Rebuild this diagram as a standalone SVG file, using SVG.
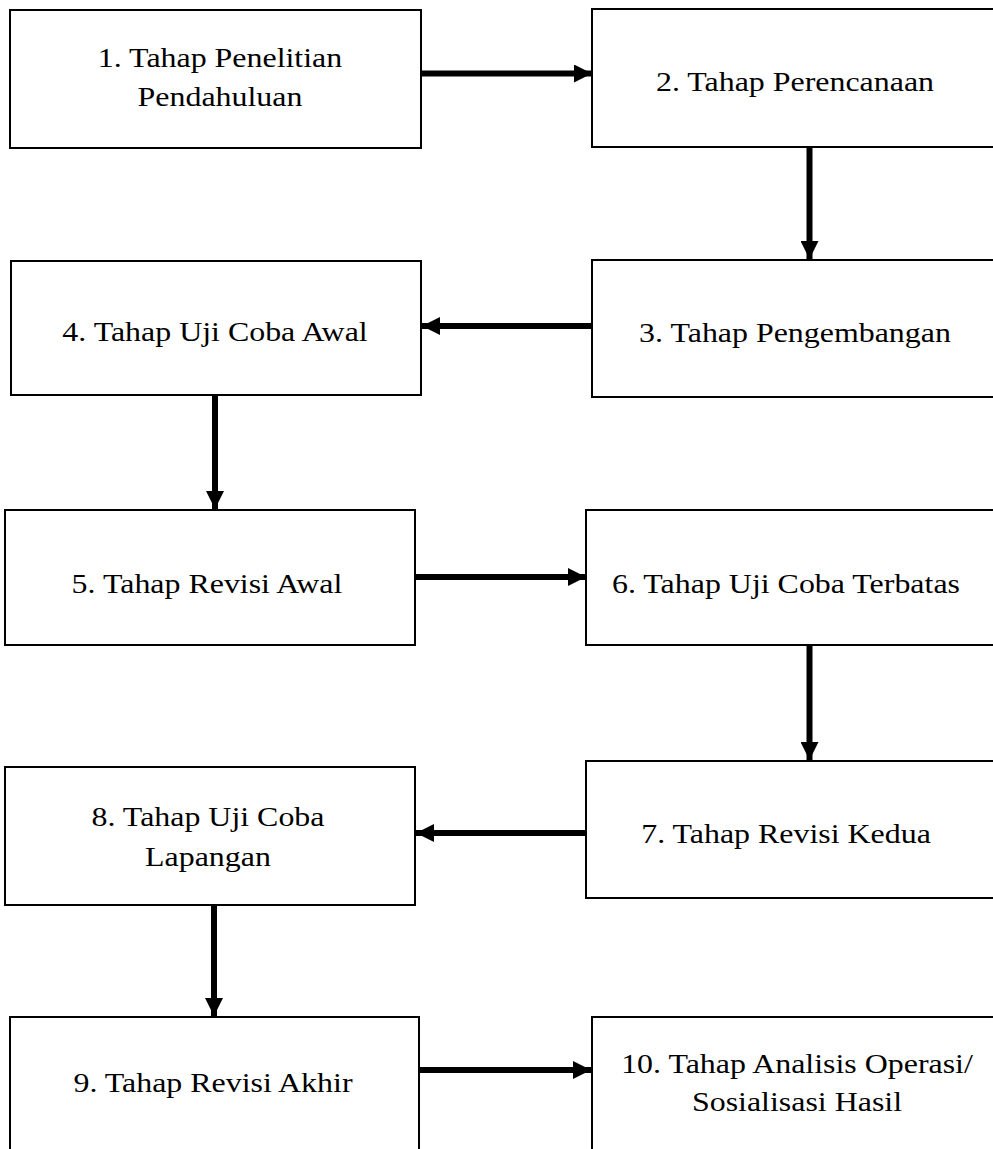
<svg xmlns="http://www.w3.org/2000/svg" width="993" height="1149" viewBox="0 0 993 1149">
<style>
.box{fill:#fff;stroke:#000;stroke-width:2}
.t{font-family:"Liberation Serif","Times New Roman",serif;font-size:28px;text-anchor:middle;fill:#000}
.c{stroke:#000;stroke-width:6;fill:none}
</style>
<defs>
<marker id="ah" markerUnits="userSpaceOnUse" markerWidth="18" markerHeight="18" viewBox="0 0 18 18" refX="18" refY="9" orient="auto">
<path d="M0,0 L18,9 L0,18 Z" fill="#000"/>
</marker>
</defs>
<rect width="993" height="1149" fill="#fff"/>
<g id="n1"><rect class="box" x="10" y="10" width="411" height="138"/>
<g transform="translate(220,0) scale(1.14,1)"><text class="t" x="0" y="67">1. Tahap Penelitian</text><text class="t" x="0" y="106">Pendahuluan</text></g></g>
<g id="n2"><rect class="box" x="592" y="9" width="420" height="138"/>
<g transform="translate(795,0) scale(1.14,1)"><text class="t" x="0" y="91">2. Tahap Perencanaan</text></g></g>
<g id="n3"><rect class="box" x="592" y="260" width="420" height="137"/>
<g transform="translate(795,0) scale(1.14,1)"><text class="t" x="0" y="342">3. Tahap Pengembangan</text></g></g>
<g id="n4"><rect class="box" x="11" y="261" width="410" height="134"/>
<g transform="translate(215,0) scale(1.14,1)"><text class="t" x="0" y="341">4. Tahap Uji Coba Awal</text></g></g>
<g id="n5"><rect class="box" x="5" y="510" width="410" height="135"/>
<g transform="translate(207,0) scale(1.14,1)"><text class="t" x="0" y="593">5. Tahap Revisi Awal</text></g></g>
<g id="n6"><rect class="box" x="586" y="510" width="420" height="135"/>
<g transform="translate(786,0) scale(1.14,1)"><text class="t" x="0" y="593">6. Tahap Uji Coba Terbatas</text></g></g>
<g id="n7"><rect class="box" x="586" y="761" width="420" height="137"/>
<g transform="translate(786,0) scale(1.14,1)"><text class="t" x="0" y="843">7. Tahap Revisi Kedua</text></g></g>
<g id="n8"><rect class="box" x="5" y="767" width="410" height="138"/>
<g transform="translate(208,0) scale(1.14,1)"><text class="t" x="0" y="826">8. Tahap Uji Coba</text><text class="t" x="0" y="866">Lapangan</text></g></g>
<g id="n9"><rect class="box" x="10" y="1017" width="409" height="200"/>
<g transform="translate(213,0) scale(1.14,1)"><text class="t" x="0" y="1092">9. Tahap Revisi Akhir</text></g></g>
<g id="n10"><rect class="box" x="592" y="1017" width="420" height="200"/>
<g transform="translate(797,0) scale(1.14,1)"><text class="t" x="0" y="1073">10. Tahap Analisis Operasi/</text><text class="t" x="0" y="1111">Sosialisasi Hasil</text></g></g>
<g id="connectors">
<line class="c" x1="421" y1="73.5" x2="592" y2="73.5" marker-end="url(#ah)"/>
<line class="c" x1="809.5" y1="147" x2="809.5" y2="259" marker-end="url(#ah)"/>
<line class="c" x1="592" y1="326" x2="422" y2="326" marker-end="url(#ah)"/>
<line class="c" x1="215" y1="396" x2="215" y2="509" marker-end="url(#ah)"/>
<line class="c" x1="415" y1="577" x2="586" y2="577" marker-end="url(#ah)"/>
<line class="c" x1="809.5" y1="645" x2="809.5" y2="760" marker-end="url(#ah)"/>
<line class="c" x1="586" y1="833" x2="416" y2="833" marker-end="url(#ah)"/>
<line class="c" x1="214" y1="905" x2="214" y2="1016" marker-end="url(#ah)"/>
<line class="c" x1="419" y1="1070" x2="591" y2="1070" marker-end="url(#ah)"/>
</g>
</svg>
